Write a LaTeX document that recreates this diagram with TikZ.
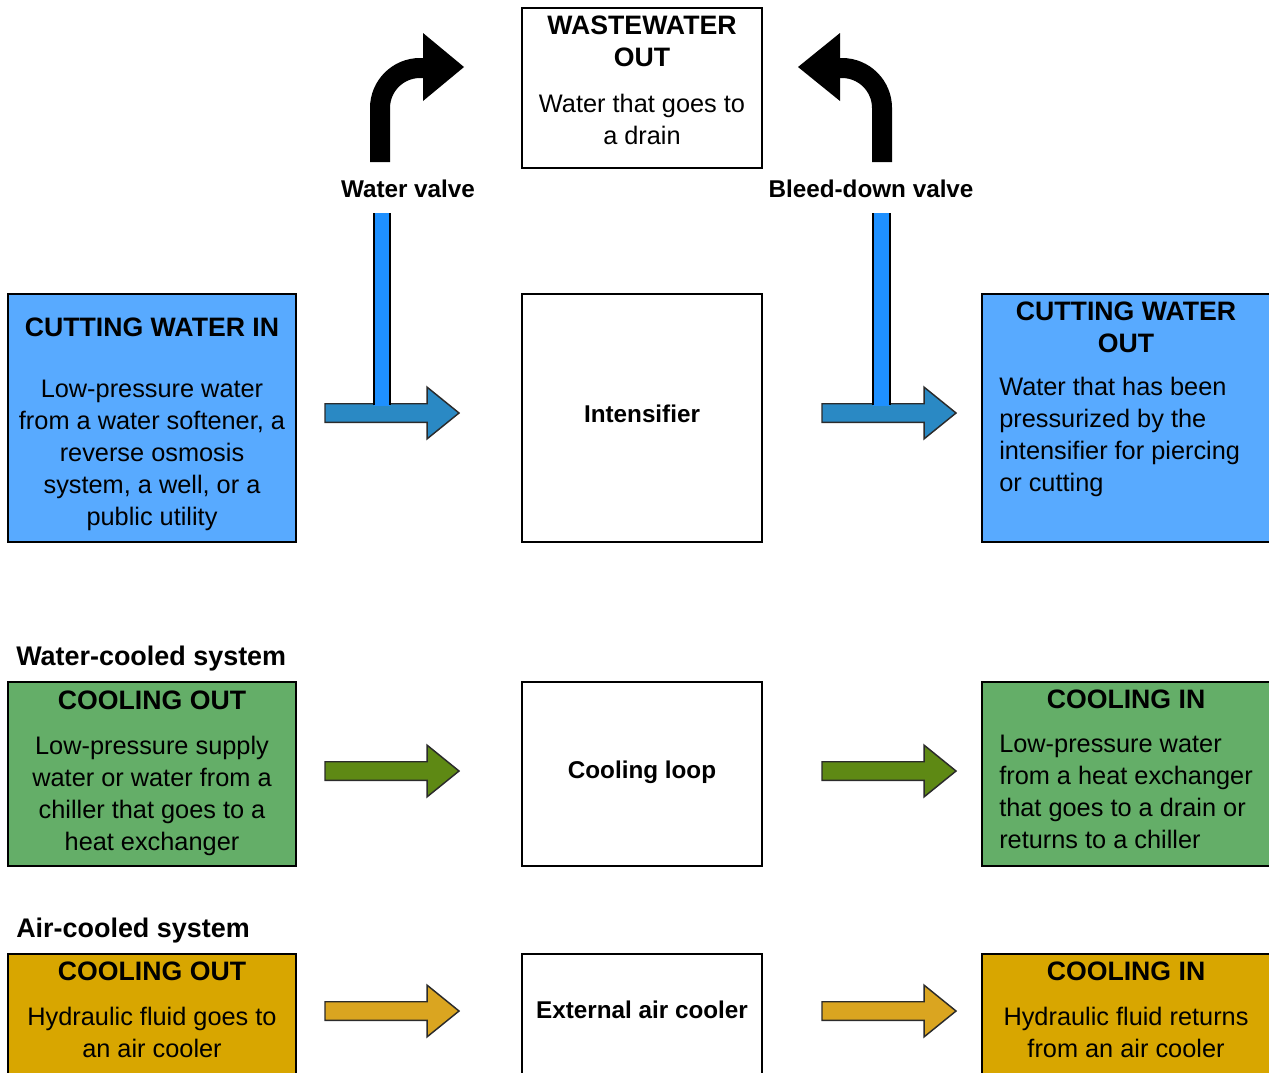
\documentclass[tikz,border=0pt]{standalone}
\usepackage{fontspec}
\setmainfont{Liberation Sans}
\usetikzlibrary{shapes.arrows}

\definecolor{cutblue}{HTML}{58AAFF}
\definecolor{pipeblue}{HTML}{1E90FF}
\definecolor{flowblue}{HTML}{2A89C4}
\definecolor{coolgreen}{HTML}{64AE68}
\definecolor{flowgreen}{HTML}{5E8914}
\definecolor{airyellow}{HTML}{D8A600}
\definecolor{flowyellow}{HTML}{DAA520}
\definecolor{edgegray}{HTML}{2B2B2B}

\begin{document}
\begin{tikzpicture}[x=0.75pt,y=-0.75pt]
\tikzset{
  box/.style={draw,line width=1.5pt,inner sep=0pt,outer sep=0pt,anchor=north west},
  boxtitle/.style={inner sep=0pt,anchor=north,align=center,font=\fontsize{20}{24}\selectfont\bfseries},
  boxtext/.style={inner sep=0pt,anchor=north,align=center,font=\fontsize{19}{24}\selectfont},
  boxtextleft/.style={boxtext,anchor=north west,align=left},
  steplabel/.style={inner sep=0pt,anchor=base,font=\fontsize{18.2}{21}\selectfont\bfseries},
  sectionlabel/.style={inner sep=0pt,anchor=base west,font=\fontsize{20.2}{24}\selectfont\bfseries},
  flow/.style={single arrow,draw=edgegray,line width=1.1pt,inner xsep=0pt,inner ysep=6.4pt,outer sep=0pt,
    single arrow head extend=12.4pt,single arrow tip angle=78,minimum height=100.5pt,anchor=tail},
  valvearrow/.style={line width=15pt,rounded corners=30pt},
  pipe/.style={line width=1.5pt}
}
\useasboundingbox (0,0) rectangle (1269,1072);
\clip (0,0) rectangle (1269,1072);

% top: wastewater and valves
\node[box,minimum width=180pt,minimum height=120pt] (waste) at (522,8) {};
\node[boxtitle] (wastetitle) at (642,16) {WASTEWATER\\OUT};
\node[boxtext] (wastetext) at (642,94) {Water that goes to\\a drain};
\node[steplabel] (watervalve) at (408,197) {Water valve};
\node[steplabel] (bleedvalve) at (871,197) {Bleed-down valve};
\draw[valvearrow] (380,162) -- (380,68) -- (425,68);
\fill (423,33) -- (464,67) -- (423,101) -- cycle;
\draw[valvearrow] (882,162) -- (882,68) -- (837,68);
\fill (840,33) -- (798,67) -- (840,101) -- cycle;

% cutting water
\node[box,fill=cutblue,minimum width=216pt,minimum height=186pt] (cutin) at (8,294) {};
\node[boxtitle] (cutintitle) at (152,318) {CUTTING WATER IN};
\node[boxtext] (cutintext) at (152,380) {Low-pressure water\\from a water softener, a\\reverse osmosis\\system, a well, or a\\public utility};
\node[box,minimum width=180pt,minimum height=186pt] (intens) at (522,294) {};
\node[steplabel] (intenslabel) at (642,422) {Intensifier};
\node[box,fill=cutblue,minimum width=240pt,minimum height=186pt] (cutout) at (982,294) {};
\node[boxtitle] (cutouttitle) at (1126,302) {CUTTING WATER\\OUT};
\node[boxtextleft] (cutouttext) at (999,377) {Water that has been\\pressurized by the\\intensifier for piercing\\or cutting};
\node[flow,fill=flowblue] (inflow) at (325,413) {};
\node[flow,fill=flowblue] (outflow) at (822,413) {};
\fill[pipeblue] (374,213) rectangle (390,406);
\draw[pipe] (374,213) -- (374,405) (390,213) -- (390,405);
\fill[pipeblue] (873,213) rectangle (890,406);
\draw[pipe] (873,213) -- (873,405) (890,213) -- (890,405);

% water-cooled system
\node[sectionlabel] (watercooled) at (16,665) {Water-cooled system};
\node[box,fill=coolgreen,minimum width=216pt,minimum height=138pt] (wcout) at (8,682) {};
\node[boxtitle] (wcouttitle) at (152,691) {COOLING OUT};
\node[boxtext] (wcouttext) at (152,736) {Low-pressure supply\\water or water from a\\chiller that goes to a\\heat exchanger};
\node[box,minimum width=180pt,minimum height=138pt] (loop) at (522,682) {};
\node[steplabel] (looplabel) at (642,778) {Cooling loop};
\node[box,fill=coolgreen,minimum width=240pt,minimum height=138pt] (wcin) at (982,682) {};
\node[boxtitle] (wcintitle) at (1126,690) {COOLING IN};
\node[boxtextleft] (wcintext) at (999,735) {Low-pressure water\\from a heat exchanger\\that goes to a drain or\\returns to a chiller};
\node[flow,fill=flowgreen] (wcflowa) at (325,771) {};
\node[flow,fill=flowgreen] (wcflowb) at (822,771) {};

% air-cooled system
\node[sectionlabel] (aircooled) at (16,937) {Air-cooled system};
\node[box,fill=airyellow,minimum width=216pt,minimum height=120pt] (acout) at (8,954) {};
\node[boxtitle] (acouttitle) at (152,962) {COOLING OUT};
\node[boxtext] (acouttext) at (152,1007) {Hydraulic fluid goes to\\an air cooler};
\node[box,minimum width=180pt,minimum height=120pt] (cooler) at (522,954) {};
\node[steplabel] (coolerlabel) at (642,1018) {External air cooler};
\node[box,fill=airyellow,minimum width=240pt,minimum height=120pt] (acin) at (982,954) {};
\node[boxtitle] (acintitle) at (1126,962) {COOLING IN};
\node[boxtext] (acintext) at (1126,1007) {Hydraulic fluid returns\\from an air cooler};
\node[flow,fill=flowyellow] (acflowa) at (325,1011) {};
\node[flow,fill=flowyellow] (acflowb) at (822,1011) {};
\end{tikzpicture}
\end{document}
